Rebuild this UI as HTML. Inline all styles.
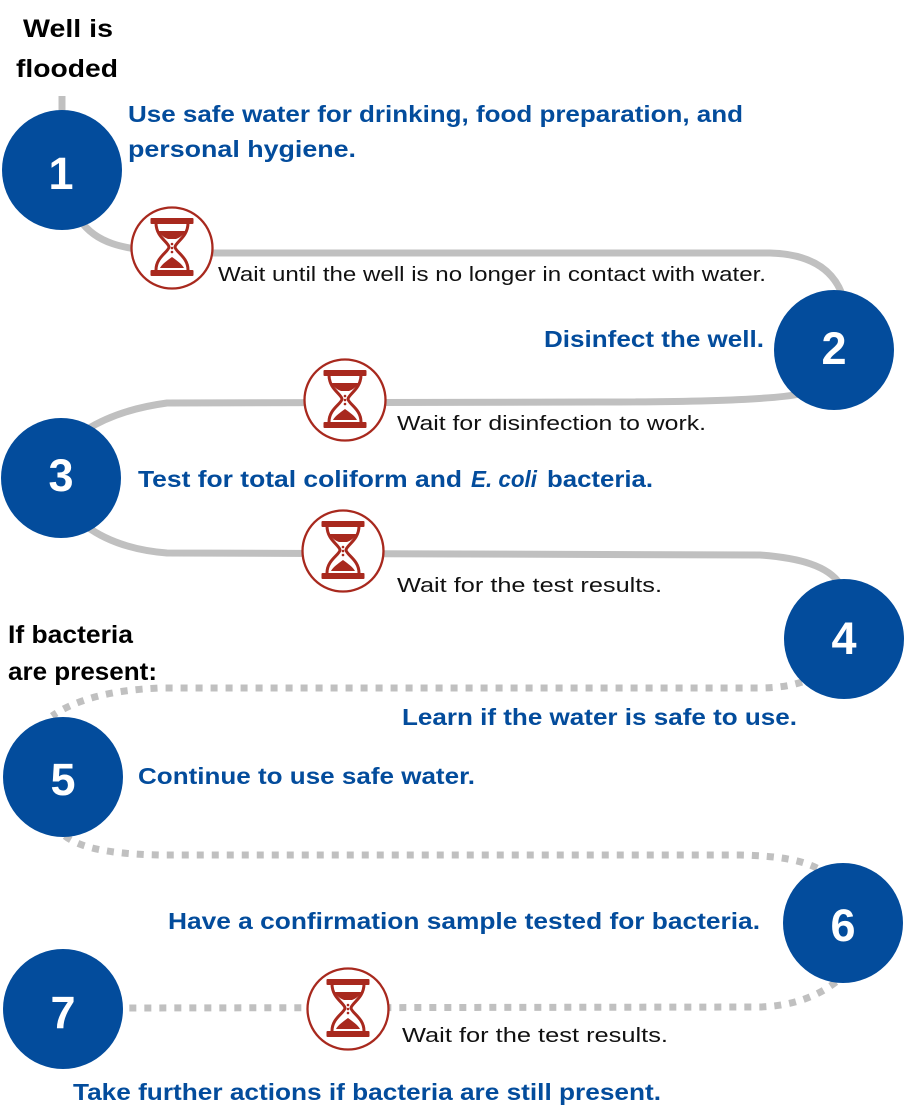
<!DOCTYPE html>
<html>
<head>
<meta charset="utf-8">
<style>
  html,body{margin:0;padding:0;background:#fff;}
  svg{display:block;}
  .h{font-family:"Liberation Sans",sans-serif;font-weight:bold;fill:#034c9c;font-size:23px;}
  .k{font-family:"Liberation Sans",sans-serif;font-weight:bold;fill:#000;font-size:25px;}
  .w{font-family:"Liberation Sans",sans-serif;fill:#111;font-size:20px;}
  .n{font-family:"Liberation Sans",sans-serif;font-weight:bold;fill:#fff;font-size:45px;}
</style>
</head>
<body>
<svg width="905" height="1113" viewBox="0 0 905 1113" xmlns="http://www.w3.org/2000/svg">
  <defs>
    <g id="hg">
      <circle cx="0" cy="0" r="40.5" fill="#fff" stroke="#a8291e" stroke-width="2.3"/>
      <rect x="-21.5" y="-30" width="43" height="6" rx="1" fill="#a8291e"/>
      <rect x="-21.5" y="22" width="43" height="6" rx="1" fill="#a8291e"/>
      <path d="M-16,-25 C-16,-11 -3.5,-6 -3,-1 C-3.5,4 -16,9 -16,22 M16,-25 C16,-11 3.5,-6 3,-1 C3.5,4 16,9 16,22" fill="none" stroke="#a8291e" stroke-width="3"/>
      <path d="M-13,-17 L13,-17 C12,-13 7,-10 4,-9 L-4,-9 C-7,-10 -12,-13 -13,-17 Z" fill="#a8291e"/>
      <circle cx="0" cy="-4" r="1.3" fill="#a8291e"/>
      <circle cx="0" cy="0" r="1.3" fill="#a8291e"/>
      <circle cx="0" cy="4" r="1.3" fill="#a8291e"/>
      <path d="M0,9 C4,12 10,16 12,20 L-12,20 C-10,16 -4,12 0,9 Z" fill="#a8291e"/>
    </g>
  </defs>

  <!-- solid connectors -->
  <g fill="none" stroke="#c0c0c0" stroke-width="7">
    <path d="M62,96 L62,115"/>
    <path d="M80,220 C95,242 120,250 175,253 L770,253 C808,254 832,268 842,294"/>
    <path d="M800,394 C770,400 700,402 600,402 L167,403 C130,408 105,418 86,430"/>
    <path d="M86,526 C105,540 130,550 167,553 L760,555 C800,558 828,566 840,584"/>
  </g>
  <!-- dotted connectors -->
  <g fill="none" stroke="#c0c0c0" stroke-width="7" stroke-dasharray="7 8">
    <path d="M802,682 C790,686 775,688 760,688 L160,688 C110,690 75,700 52,716"/>
    <path d="M65,836 C80,848 110,854 160,855 L740,855 C780,856 805,860 824,872"/>
    <path d="M836,982 C815,998 790,1006 760,1007 L120,1008"/>
  </g>

  <!-- circles -->
  <g fill="#034c9c">
    <circle cx="62" cy="170" r="60"/>
    <circle cx="834" cy="350" r="60"/>
    <circle cx="61" cy="478" r="60"/>
    <circle cx="844" cy="639" r="60"/>
    <circle cx="63" cy="777" r="60"/>
    <circle cx="843" cy="923" r="60"/>
    <circle cx="63" cy="1009" r="60"/>
  </g>
  <g class="n" text-anchor="middle">
    <text x="61" y="189">1</text>
    <text x="834" y="364">2</text>
    <text x="61" y="491">3</text>
    <text x="844" y="654">4</text>
    <text x="63" y="795">5</text>
    <text x="843" y="941">6</text>
    <text x="63" y="1028">7</text>
  </g>

  <!-- hourglasses -->
  <use href="#hg" x="172" y="248"/>
  <use href="#hg" x="345" y="400"/>
  <use href="#hg" x="343" y="551"/>
  <use href="#hg" x="348" y="1009"/>

  <!-- black headings -->
  <text class="k" x="23" y="37" textLength="90" lengthAdjust="spacingAndGlyphs">Well is</text>
  <text class="k" x="16" y="77" textLength="102" lengthAdjust="spacingAndGlyphs">flooded</text>
  <text class="k" x="8" y="643" textLength="125" lengthAdjust="spacingAndGlyphs">If bacteria</text>
  <text class="k" x="8" y="680" textLength="149" lengthAdjust="spacingAndGlyphs">are present:</text>

  <!-- blue step texts -->
  <text class="h" x="128" y="122" textLength="615" lengthAdjust="spacingAndGlyphs">Use safe water for drinking, food preparation, and</text>
  <text class="h" x="128" y="157" textLength="228" lengthAdjust="spacingAndGlyphs">personal hygiene.</text>
  <text class="h" x="544" y="347" textLength="220" lengthAdjust="spacingAndGlyphs">Disinfect the well.</text>
  <text class="h" x="138" y="487" textLength="324" lengthAdjust="spacingAndGlyphs">Test for total coliform and</text>
  <text class="h" x="471" y="487" textLength="66" lengthAdjust="spacingAndGlyphs" font-style="italic">E. coli</text>
  <text class="h" x="547" y="487" textLength="106" lengthAdjust="spacingAndGlyphs">bacteria.</text>
  <text class="h" x="402" y="725" textLength="395" lengthAdjust="spacingAndGlyphs">Learn if the water is safe to use.</text>
  <text class="h" x="138" y="784" textLength="337" lengthAdjust="spacingAndGlyphs">Continue to use safe water.</text>
  <text class="h" x="168" y="929" textLength="592" lengthAdjust="spacingAndGlyphs">Have a confirmation sample tested for bacteria.</text>
  <text class="h" x="73" y="1100" textLength="588" lengthAdjust="spacingAndGlyphs">Take further actions if bacteria are still present.</text>

  <!-- wait texts -->
  <text class="w" x="218" y="281" textLength="548" lengthAdjust="spacingAndGlyphs">Wait until the well is no longer in contact with water.</text>
  <text class="w" x="397" y="430" textLength="309" lengthAdjust="spacingAndGlyphs">Wait for disinfection to work.</text>
  <text class="w" x="397" y="592" textLength="265" lengthAdjust="spacingAndGlyphs">Wait for the test results.</text>
  <text class="w" x="402" y="1042" textLength="266" lengthAdjust="spacingAndGlyphs">Wait for the test results.</text>
</svg>
</body>
</html>
